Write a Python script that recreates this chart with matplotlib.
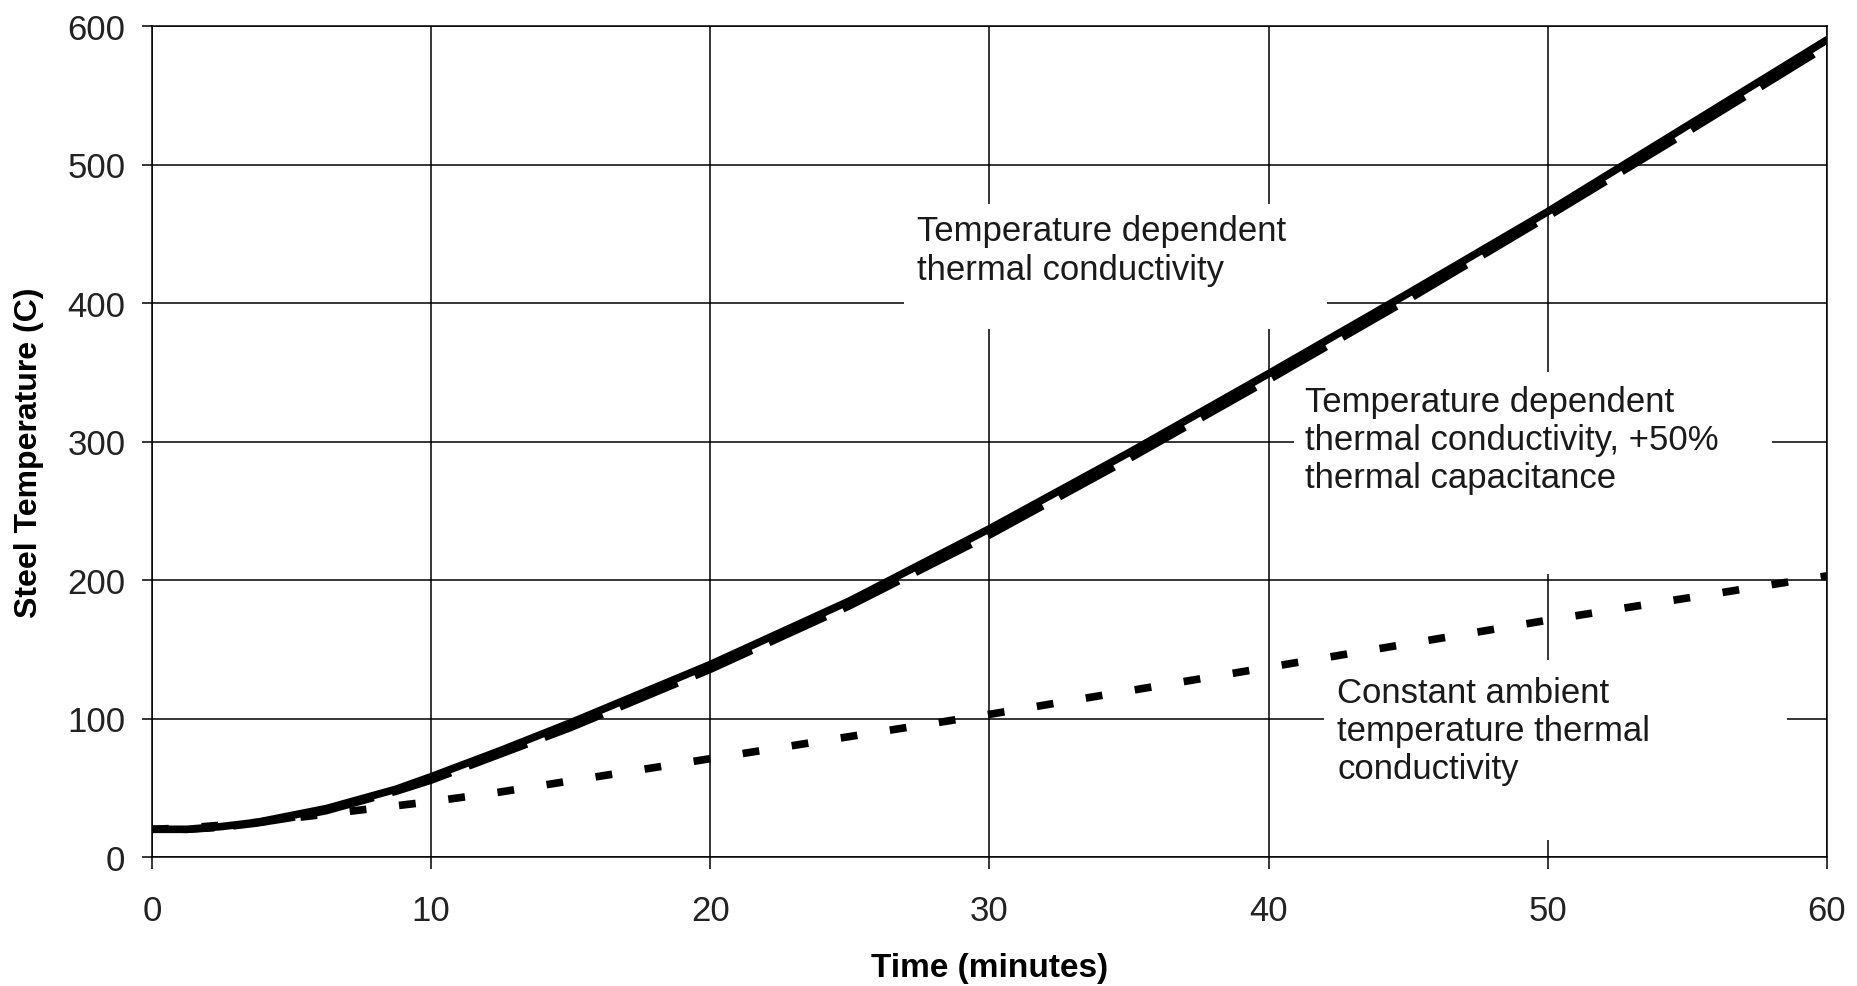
import matplotlib
matplotlib.use("Agg")
import matplotlib.pyplot as plt
from matplotlib.patches import Rectangle

plt.rcParams['font.family'] = ['Liberation Sans', 'DejaVu Sans']

# ---- data ----
time_min = [0, 1.25, 2.5, 3.75, 5, 6.25, 7.5, 8.75, 10, 12.5, 15, 17.5, 20,
            25, 30, 35, 40, 45, 50, 55, 60]
temp_dependent = [20, 20, 22, 25, 30, 35, 42, 49, 58, 77, 97, 118, 139,
                  185, 237, 292, 349, 407, 466, 528, 590]
temp_dep_cap50 = [20, 19.5, 21, 24, 28, 33, 40, 47, 55, 74, 93, 114, 135,
                  181, 232, 287, 344, 402, 462, 523, 585]
constant_ambient = [20, 21, 23, 25, 28, 31, 34, 37, 40, 47, 55, 63, 71,
                    87, 103, 120, 137, 154, 171, 187, 203]

x_ticks = [0, 10, 20, 30, 40, 50, 60]
y_ticks = [0, 100, 200, 300, 400, 500, 600]

label_td = "Temperature dependent\nthermal conductivity"
label_cap = "Temperature dependent\nthermal conductivity, +50%\nthermal capacitance"
label_const = "Constant ambient\ntemperature thermal\nconductivity"

# ---- figure ----
W, H, DPI = 1858, 987, 100
fig = plt.figure(figsize=(W / DPI, H / DPI), dpi=DPI)
ax = fig.add_axes([152 / W, 1 - 858 / H, (1827 - 152) / W, (858 - 27) / H])

ax.set_xlim(0, 60)
ax.set_ylim(0, 600)
ax.set_xticks(x_ticks)
ax.set_yticks(y_ticks)
ax.grid(True, color='black', linewidth=1.1, zorder=0)
for s in ax.spines.values():
    s.set_color('black')
    s.set_linewidth(1.1)
    s.set_zorder(1)

ax.tick_params(axis='both', labelsize=25, colors='black', labelcolor='#222222', width=1.1)
ax.tick_params(axis='y', length=7.2, pad=12)
ax.tick_params(axis='x', length=8.6, pad=18)

# white boxes behind the annotations (cover the grid)
boxes = [((26.94, 381.2), 42.09 - 26.94, 471.5 - 381.2),
         ((40.9, 204.0), 58.03 - 40.9, 350.0 - 204.0),
         ((41.98, 12.3), 58.57 - 41.98, 142.0 - 12.3)]
for (xy, w, h) in boxes:
    ax.add_patch(Rectangle(xy, w, h, facecolor='white', edgecolor='none', zorder=2))

# series
ax.plot(time_min, temp_dep_cap50, color='black', linewidth=4.5,
        linestyle=(0, (10, 3)), dash_capstyle='butt', zorder=3)
ax.plot(time_min, temp_dependent, color='black', linewidth=5.5,
        solid_capstyle='round', solid_joinstyle='round', zorder=4)
ax.plot(time_min, constant_ambient, color='black', linewidth=5.5,
        linestyle=(0, (2.2, 4.3)), dash_capstyle='butt', zorder=4)

# annotations
txt_kw = dict(fontsize=25, color='#1a1a1a', va='top', ha='left', linespacing=1.2, zorder=5)
ax.text(27.40, 464.0, label_td, **txt_kw)
ax.text(41.30, 341.0, label_cap, **txt_kw)
ax.text(42.45, 131.0, label_const, **txt_kw)

# axis labels
fig.text(990 / W, 1 - 969 / H, "Time (minutes)", fontsize=24, fontweight='bold',
         ha='center', va='center')
fig.text(29 / W, 1 - 453 / H, "Steel Temperature (C)", fontsize=23, fontweight='bold',
         ha='center', va='center', rotation=90)

fig.savefig("out.png", dpi=DPI)
